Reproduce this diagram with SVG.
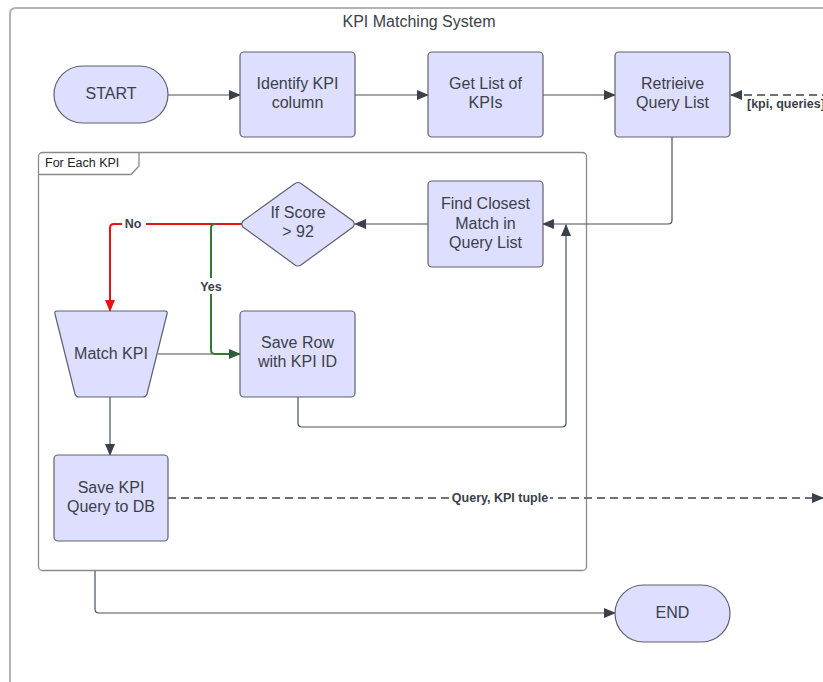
<svg xmlns="http://www.w3.org/2000/svg" width="823" height="682" viewBox="0 0 823 682">
  <style>
    .node { fill: #dedeff; stroke: #5f6070; stroke-width: 1.2; }
    .label { font-family: "Liberation Sans", Arial, sans-serif; font-size: 16px; fill: #3a414a; text-anchor: middle; }
    .edge { fill: none; stroke: #4a4f58; stroke-width: 1.2; }
    .dash { fill: none; stroke: #6e7178; stroke-width: 2; stroke-dasharray: 8 5; }
    .tag { font-family: "Liberation Sans", Arial, sans-serif; font-size: 12.5px; font-weight: bold; fill: #3a414a; text-anchor: middle; }
    .frame { fill: #ffffff; stroke: #8a8a8a; stroke-width: 1.3; }
  </style>
  <defs>
    <marker id="arrow" viewBox="0 0 12 10" refX="11" refY="5" markerWidth="12" markerHeight="10" markerUnits="userSpaceOnUse" orient="auto">
      <path d="M0,0 L12,5 L0,10 Z" fill="#3a414a"/>
    </marker>
    <marker id="arrowRed" viewBox="0 0 12 10" refX="11" refY="5" markerWidth="12" markerHeight="10" markerUnits="userSpaceOnUse" orient="auto">
      <path d="M0,0 L12,5 L0,10 Z" fill="#e81313"/>
    </marker>
    <marker id="arrowGreen" viewBox="0 0 12 10" refX="11" refY="5" markerWidth="12" markerHeight="10" markerUnits="userSpaceOnUse" orient="auto">
      <path d="M0,0 L12,5 L0,10 Z" fill="#2f5b3a"/>
    </marker>
  </defs>

  <rect width="823" height="682" fill="#ffffff"/>

  <!-- outer container -->
  <g id="container">
    <path d="M10,690 L10,14 Q10,8 16,8 L830,8" fill="none" stroke="#b3b3b3" stroke-width="2"/>
    <text x="419" y="27" class="label">KPI Matching System</text>
  </g>

  <!-- loop frame -->
  <g id="loop">
    <rect x="38.5" y="152.5" width="548" height="418" rx="4" class="frame"/>
    <path d="M38.5,174.5 L131,174.5 L139,166 L139,152.5" fill="none" stroke="#8a8a8a" stroke-width="1.3"/>
    <text x="45" y="167" style="font-family:'Liberation Sans',Arial,sans-serif;font-size:12.5px;fill:#222">For Each KPI</text>
  </g>

  <!-- connectors -->
  <g id="connectors">
    <path d="M168,95 L240,95" class="edge" marker-end="url(#arrow)"/>
    <path d="M355,95 L428,95" class="edge" marker-end="url(#arrow)"/>
    <path d="M543,95 L615,95" class="edge" marker-end="url(#arrow)"/>
    <path d="M830,95 L731,95" class="dash" marker-end="url(#arrow)"/>
    <path d="M672,137 L672,220 Q672,224 668,224 L543,224" class="edge" marker-end="url(#arrow)"/>
    <path d="M428,224 L355,224" class="edge" marker-end="url(#arrow)"/>
    <path d="M242,224 L114,224 Q110,224 110,228 L110,311" fill="none" stroke="#e81313" stroke-width="2" marker-end="url(#arrowRed)"/>
    <path d="M215,224 Q211,224 211,228 L211,350 Q211,354 215,354 L240,354" fill="none" stroke="#2f7a2f" stroke-width="2" marker-end="url(#arrowGreen)"/>
    <path d="M158,354 L212,354" class="edge"/>
    <path d="M298,397 L298,423 Q298,427 302,427 L562,427 Q566,427 566,423 L566,225" class="edge" marker-end="url(#arrow)"/>
    <path d="M110,397 L110,455" class="edge" marker-end="url(#arrow)"/>
    <path d="M168,498 L823,498" class="dash" marker-end="url(#arrow)"/>
    <path d="M95,571 L95,609 Q95,613 99,613 L615,613" class="edge" marker-end="url(#arrow)"/>

    <rect x="746" y="97" width="80" height="14" fill="#ffffff"/>
    <text x="747" y="108" class="tag" style="text-anchor:start">[kpi, queries]</text>
    <rect x="122" y="216" width="24" height="15" fill="#ffffff"/>
    <text x="133" y="228" class="tag">No</text>
    <rect x="197" y="278" width="28" height="16" fill="#ffffff"/>
    <text x="211" y="291" class="tag">Yes</text>
    <rect x="450" y="490" width="100" height="16" fill="#ffffff"/>
    <text x="500" y="502" class="tag">Query, KPI tuple</text>
  </g>

  <g id="start">
    <rect x="54" y="66" width="114" height="57" rx="28.5" class="node"/>
    <text x="111" y="99" class="label">START</text>
  </g>

  <g id="identify-kpi-column">
    <rect x="240" y="52" width="115" height="85" rx="4" class="node"/>
    <text x="297.5" y="89" class="label">Identify KPI</text>
    <text x="297.5" y="108" class="label">column</text>
  </g>

  <g id="get-list-of-kpis">
    <rect x="428" y="52" width="115" height="85" rx="4" class="node"/>
    <text x="485.5" y="89" class="label">Get List of</text>
    <text x="485.5" y="108" class="label">KPIs</text>
  </g>

  <g id="retrieve-query-list">
    <rect x="615" y="52" width="115" height="85" rx="4" class="node"/>
    <text x="672.5" y="89" class="label">Retrieive</text>
    <text x="672.5" y="108" class="label">Query List</text>
  </g>

  <g id="find-closest-match">
    <rect x="428" y="181" width="115" height="86" rx="4" class="node"/>
    <text x="485.5" y="209" class="label">Find Closest</text>
    <text x="485.5" y="229" class="label">Match in</text>
    <text x="485.5" y="248" class="label">Query List</text>
  </g>

  <g id="if-score">
    <path d="M295,183.5 Q298,181.5 301,183.5 L353,221 Q355.5,224 353,227 L301,265 Q298,267 295,265 L243,227 Q240.5,224 243,221 Z" class="node"/>
    <text x="298" y="218" class="label">If Score</text>
    <text x="298" y="237" class="label">&gt; 92</text>
  </g>

  <g id="match-kpi">
    <path d="M57,311 L165,311 Q168,311 167,314 L147,394 Q146,397 143,397 L79,397 Q76,397 75,394 L55,314 Q54,311 57,311 Z" class="node"/>
    <text x="111" y="359" class="label">Match KPI</text>
  </g>

  <g id="save-row">
    <rect x="240" y="311" width="115" height="86" rx="4" class="node"/>
    <text x="297.5" y="348" class="label">Save Row</text>
    <text x="297.5" y="367" class="label">with KPI ID</text>
  </g>

  <g id="save-kpi-query">
    <rect x="54" y="455" width="114" height="86" rx="4" class="node"/>
    <text x="111" y="493" class="label">Save KPI</text>
    <text x="111" y="512" class="label">Query to DB</text>
  </g>

  <g id="end">
    <rect x="615" y="585" width="115" height="57" rx="28.5" class="node"/>
    <text x="672.5" y="618" class="label">END</text>
  </g>
</svg>
